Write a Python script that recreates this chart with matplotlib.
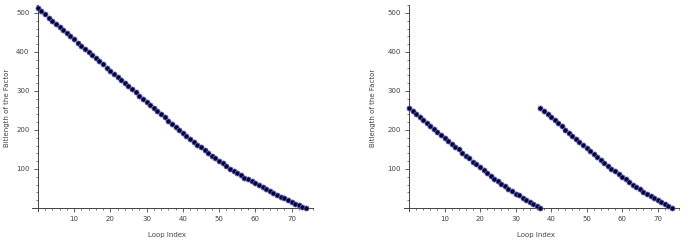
import numpy as np
import matplotlib
matplotlib.use('Agg')
import matplotlib.pyplot as plt
from matplotlib.ticker import MultipleLocator

# Left panel: one factor, 512 bits shrinking over 75 loop steps
left_x = np.arange(0, 75)
left_y = [512, 504, 496, 488, 480, 472, 464, 456, 448, 440,
          432, 424, 416, 408, 400, 392, 384, 376, 368, 360,
          352, 344, 336, 328, 320, 312, 304, 296, 288, 280,
          272, 264, 256, 248, 240, 232, 224, 216, 208, 200,
          192, 185, 177, 170, 162, 155, 148, 141, 134, 127,
          120, 114, 107, 101, 95, 89, 84, 78, 73, 68,
          63, 58, 53, 48, 43, 38, 34, 29, 25, 20,
          15, 11, 7, 3, 0]

# Right panel: two factors of ~256 bits, one after the other
right_x1 = np.arange(0, 38)
right_y1 = [256, 248, 241, 233, 226, 218, 210, 203, 195, 188,
            180, 172, 165, 157, 150, 142, 134, 127, 119, 112,
            104, 97, 89, 82, 75, 68, 62, 55, 49, 43,
            37, 32, 26, 21, 16, 11, 6, 0]
right_x2 = np.arange(37, 75)
right_y2 = [257, 249, 241, 233, 225, 217, 209, 201, 193, 185,
            177, 169, 161, 153, 146, 138, 130, 123, 115, 108,
            101, 94, 87, 80, 73, 66, 60, 54, 48, 42,
            36, 31, 25, 20, 15, 10, 5, 0]

x_ticks = [10, 20, 30, 40, 50, 60, 70]
y_ticks = [100, 200, 300, 400, 500]

axis_col = '#444444'
text_col = '#444444'


def style_axes(ax, ylab_x):
    """Sage-like axes: crossing lines at the origin, no box"""
    ax.set_xlim(-1.5, 76)
    ax.set_ylim(-8, 520)
    for s in ['top', 'right']:
        ax.spines[s].set_visible(False)
    for s in ['left', 'bottom']:
        ax.spines[s].set_position(('data', 0))
        ax.spines[s].set_color(axis_col)
        ax.spines[s].set_linewidth(0.7)
    ax.set_xticks(x_ticks)
    ax.set_yticks(y_ticks)
    ax.xaxis.set_minor_locator(MultipleLocator(2))
    ax.yaxis.set_minor_locator(MultipleLocator(20))
    ax.tick_params(which='major', length=3, width=0.6, color=axis_col,
                   labelsize=5, labelcolor=text_col, pad=3, direction='out')
    ax.tick_params(which='minor', length=1.5, width=0.5, color=axis_col,
                   direction='out')
    ax.set_xlabel('Loop Index', fontsize=5, color=text_col)
    ax.set_ylabel('Bitlength of the Factor', fontsize=5, color=text_col)
    ax.xaxis.set_label_coords(0.48, -0.1)
    ax.yaxis.set_label_coords(ylab_x, 0.5)


def dots(ax, xs, ys):
    ax.plot(xs, ys, 'o', linestyle='none', markersize=3.6,
            markerfacecolor='#00003c', markeredgecolor='#5c5ca8',
            markeredgewidth=0.6, clip_on=False, zorder=3)


fig = plt.figure(figsize=(6.9, 2.44), dpi=100)
ax1 = fig.add_axes([0.047, 0.135, 0.407, 0.844])
ax2 = fig.add_axes([0.585, 0.135, 0.399, 0.844])

dots(ax1, left_x, left_y)
dots(ax2, right_x1, right_y1)
dots(ax2, right_x2, right_y2)

style_axes(ax1, -0.08)
style_axes(ax2, -0.1)

fig.savefig('out.png', dpi=100)
